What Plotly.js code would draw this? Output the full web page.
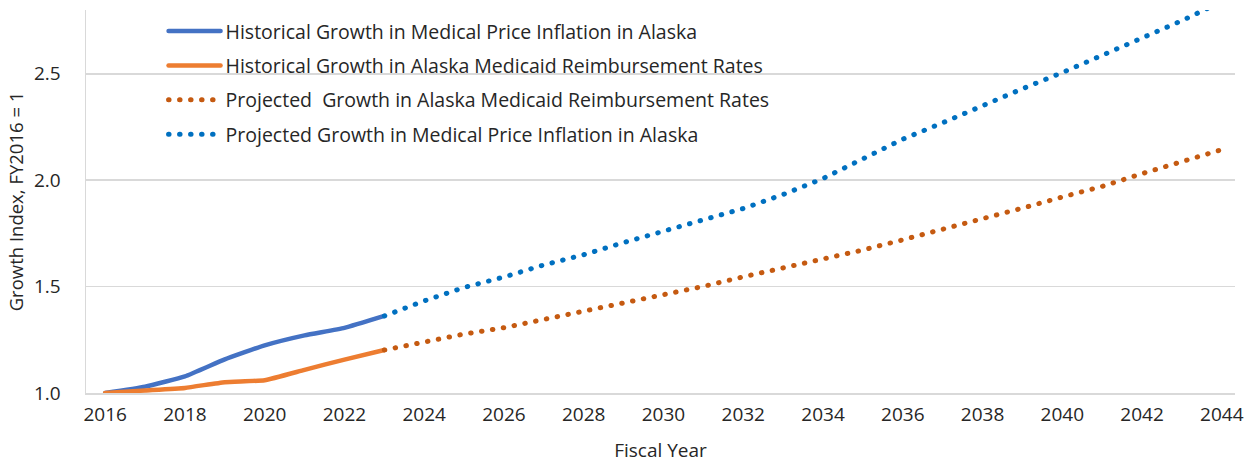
<!DOCTYPE html>
<html>
<head>
<meta charset="utf-8">
<script src="https://cdn.plot.ly/plotly-3.0.1.min.js"></script>
<style>
  html, body { margin: 0; padding: 0; background: #fff; }
  #chart { width: 1249px; height: 463px; }
  .js-line { stroke-linecap: round; stroke-linejoin: round; }
</style>
</head>
<body>
<div id="chart"></div>
<script>
const histYears = [2016, 2017, 2018, 2019, 2020, 2021, 2022, 2023];
const projYears = [2023, 2024, 2025, 2026, 2027, 2028, 2029, 2030, 2031, 2032, 2033,
                   2034, 2035, 2036, 2037, 2038, 2039, 2040, 2041, 2042, 2043, 2044];

const histMedicalInflation = [1.000, 1.030, 1.078, 1.158, 1.224, 1.271, 1.306, 1.362];
const histMedicaidRates    = [1.000, 1.012, 1.024, 1.051, 1.060, 1.109, 1.157, 1.202];

const projMedicaidRates    = [1.202, 1.240, 1.277, 1.307, 1.345, 1.383, 1.422, 1.460, 1.501, 1.546, 1.587,
                              1.633, 1.672, 1.720, 1.768, 1.818, 1.869, 1.921, 1.971, 2.031, 2.086, 2.144];
const projMedicalInflation = [1.362, 1.433, 1.496, 1.545, 1.602, 1.650, 1.707, 1.758, 1.814, 1.867, 1.933,
                              2.008, 2.101, 2.193, 2.270, 2.351, 2.430, 2.506, 2.586, 2.664, 2.750, 2.840];

const seriesNames = [
  "Historical Growth in Medical Price Inflation in Alaska",
  "Historical Growth in Alaska Medicaid Reimbursement Rates",
  "Projected  Growth in Alaska Medicaid Reimbursement Rates",
  "Projected Growth in Medical Price Inflation in Alaska"
];
const yTicks = [1.0, 1.5, 2.0, 2.5];
const xTicks = [2016, 2018, 2020, 2022, 2024, 2026, 2028, 2030, 2032, 2034, 2036, 2038, 2040, 2042, 2044];

const FONT = "'Open Sans', Lato, sans-serif";
const dotted = "0.5px,10.5px";

const traces = [
  { x: histYears, y: histMedicalInflation, name: seriesNames[0], mode: "lines",
    line: { color: "#4472C4", width: 4.5, shape: "spline", smoothing: 0.4 }, legendgroup: "a" },
  { x: histYears, y: histMedicaidRates, name: seriesNames[1], mode: "lines",
    line: { color: "#ED7D31", width: 4.5, shape: "spline", smoothing: 0.4 }, legendgroup: "b" },
  { x: projYears, y: projMedicaidRates, name: seriesNames[2], mode: "lines",
    line: { color: "#C55A11", width: 5, dash: dotted }, legendgroup: "c" },
  { x: projYears, y: projMedicalInflation, name: seriesNames[3], mode: "lines",
    line: { color: "#0070C0", width: 5, dash: dotted }, legendgroup: "d" }
];

const layout = {
  width: 1249, height: 463,
  margin: { l: 86, r: 14, t: 10, b: 70 },
  paper_bgcolor: "#ffffff", plot_bgcolor: "#ffffff",
  font: { family: FONT, size: 19, color: "#262626" },
  showlegend: true,
  legend: {
    x: 0.0675, y: 0.995, xanchor: "left", yanchor: "top",
    bgcolor: "rgba(0,0,0,0)", traceorder: "grouped", tracegroupgap: 6,
    font: { family: FONT, size: 19.5, color: "#262626" },
    itemwidth: 52
  },
  xaxis: {
    range: [2015.52, 2044.33],
    tickmode: "array", tickvals: xTicks, ticktext: xTicks.map(String),
    showgrid: false, zeroline: false,
    showline: true, linecolor: "#d9d9d9", linewidth: 1.5,
    ticks: "", ticklabelstandoff: 4,
    tickfont: { family: FONT, size: 19, color: "#262626" },
    title: { text: "Fiscal Year", font: { family: FONT, size: 19, color: "#262626" }, standoff: 18 }
  },
  yaxis: {
    range: [1.0, 2.8],
    tickmode: "array", tickvals: yTicks, ticktext: yTicks.map(v => v.toFixed(1)),
    showgrid: true, gridcolor: "#d9d9d9", gridwidth: 1.5, zeroline: false,
    showline: true, linecolor: "#d9d9d9", linewidth: 1.5,
    ticks: "", ticklabelstandoff: 20,
    tickfont: { family: FONT, size: 19, color: "#262626" },
    title: { text: "Growth Index, FY2016 = 1", font: { family: FONT, size: 18.5, color: "#262626" }, standoff: 5 }
  }
};

Plotly.newPlot("chart", traces, layout, { displayModeBar: false, staticPlot: true });
</script>
</body>
</html>
